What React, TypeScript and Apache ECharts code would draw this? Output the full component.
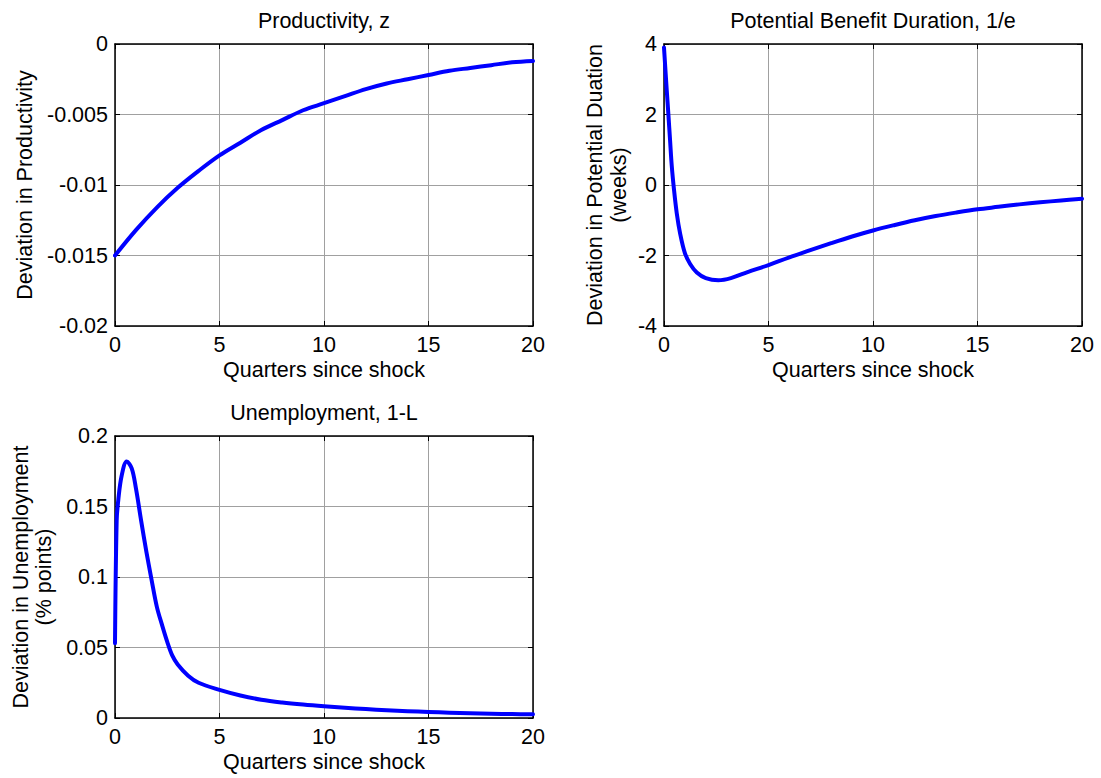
import React, { useEffect, useRef } from "react";
import * as echarts from "echarts";

// ---- Data ----
const xTicks = [0, 5, 10, 15, 20];

const prodX = [0, 1, 2, 3, 4, 5, 6, 7, 8, 9, 10, 11, 12, 13, 14, 15, 16, 17, 18, 19, 20];
const prodY = [-0.015, -0.0132, -0.0116, -0.0102, -0.009, -0.0079, -0.007, -0.0061, -0.0054, -0.0047, -0.0042,
  -0.0037, -0.0032, -0.0028, -0.0025, -0.0022, -0.0019, -0.0017, -0.0015, -0.0013, -0.0012];

const durX = [0, 0.13, 0.21, 0.29, 0.37, 0.48, 0.61, 0.77, 1.0, 1.25, 1.57, 2.0, 2.6, 3.2, 4.0, 5, 6, 7, 8, 9, 10,
  11, 12, 13, 14, 15, 16, 17, 18, 19, 20];
const durY = [3.9, 2.7, 2.0, 1.27, 0.55, -0.14, -0.8, -1.37, -1.93, -2.24, -2.48, -2.64, -2.7, -2.64, -2.47, -2.27,
  -2.05, -1.85, -1.65, -1.46, -1.29, -1.14, -1.0, -0.88, -0.78, -0.69, -0.62, -0.55, -0.49, -0.44, -0.39];

const unX = [0, 0.08, 0.16, 0.32, 0.56, 0.8, 1.0, 1.25, 1.5, 1.75, 2.0, 2.25, 2.5, 2.75, 3.0, 3.5, 4.0, 5, 6, 7, 8,
  9, 10, 11, 12, 13, 14, 15, 16, 17, 18, 19, 20];
const unY = [0.053, 0.14, 0.155, 0.172, 0.182, 0.177, 0.163, 0.14, 0.118, 0.098, 0.079, 0.066, 0.054, 0.044, 0.038,
  0.03, 0.025, 0.02, 0.016, 0.013, 0.011, 0.0095, 0.0083, 0.0073, 0.0063, 0.0055, 0.0048, 0.0043, 0.0038, 0.0033,
  0.003, 0.0028, 0.0026];

const titles = ["Productivity, z", "Potential Benefit Duration, 1/e", "Unemployment, 1-L"];
const xLabel = "Quarters since shock";
const yLabels = [
  ["Deviation in Productivity"],
  ["Deviation in Potential Duation", "(weeks)"],
  ["Deviation in Unemployment", "(% points)"],
];
const yRanges = [
  { min: -0.02, max: 0, interval: 0.005 },
  { min: -4, max: 4, interval: 2 },
  { min: 0, max: 0.2, interval: 0.05 },
];

const FONT = "Arial, 'Liberation Sans', Helvetica, sans-serif";
const FS = 21.5;

const grids = [
  { left: 115, top: 44, width: 418, height: 282 },
  { left: 664, top: 44, width: 418, height: 282 },
  { left: 115, top: 436, width: 418, height: 282 },
];
const yLabelOffsets = [[-90], [-69, -45], [-94, -71]];

export default function App() {
  const ref = useRef<HTMLDivElement>(null);
  useEffect(() => {
    if (!ref.current) return;
    const chart = echarts.init(ref.current, null, { renderer: "svg" });

    const axisLine = { show: true, onZero: false, lineStyle: { color: "#000", width: 1.5 } };
    const axisTick = { show: true, inside: true, length: 5, lineStyle: { color: "#000", width: 1 } };
    const splitLine = { show: true, lineStyle: { color: "#a0a0a0", width: 1 } };
    const labelStyle = { color: "#000", fontSize: FS, fontFamily: FONT };

    const xAxis: any[] = [];
    const yAxis: any[] = [];
    grids.forEach((g, i) => {
      ["bottom", "top"].forEach((pos) => {
        const main = pos === "bottom";
        xAxis.push({
          type: "value", gridIndex: i, position: pos, min: xTicks[0], max: xTicks[xTicks.length - 1], interval: 5,
          axisLine, axisTick,
          axisLabel: { show: main, margin: 8, ...labelStyle, formatter: (v: number) => String(v) },
          splitLine: { ...splitLine, show: main },
          name: main ? xLabel : "", nameLocation: "middle", nameGap: 33,
          nameTextStyle: { ...labelStyle },
        });
      });
      ["left", "right"].forEach((pos) => {
        const main = pos === "left";
        yAxis.push({
          type: "value", gridIndex: i, position: pos, ...yRanges[i],
          axisLine, axisTick,
          axisLabel: { show: main, margin: 7, ...labelStyle },
          splitLine: { ...splitLine, show: main },
        });
      });
    });

    const mk = (xs: number[], ys: number[]) => xs.map((x, k) => [x, ys[k]]);
    const datas = [mk(prodX, prodY), mk(durX, durY), mk(unX, unY)];
    const series = datas.map((d, i) => ({
      type: "line", xAxisIndex: 2 * i, yAxisIndex: 2 * i, data: d,
      showSymbol: false, smooth: 0.35,
      lineStyle: { color: "#0000ff", width: 4, join: "round", cap: "round" },
      z: 5,
    }));

    const graphic: any[] = [];
    grids.forEach((g, i) => {
      const cx = g.left + g.width / 2;
      const cy = g.top + g.height / 2;
      graphic.push({
        type: "text", x: cx, y: g.top - 23,
        style: { text: titles[i], align: "center", verticalAlign: "middle", fill: "#000", font: `${FS}px ${FONT}` },
      });
      yLabels[i].forEach((t, k) => {
        graphic.push({
          type: "text", x: g.left + yLabelOffsets[i][k], y: cy, rotation: Math.PI / 2,
          style: { text: t, align: "center", verticalAlign: "middle", fill: "#000", font: `${FS}px ${FONT}` },
        });
      });
    });

    chart.setOption({
      animation: false,
      backgroundColor: "#fff",
      grid: grids.map((g) => ({ ...g, containLabel: false })),
      xAxis,
      yAxis,
      series,
      graphic,
    });
    return () => chart.dispose();
  }, []);
  return <div ref={ref} style={{ position: "fixed", left: 0, top: 0, width: 1101, height: 778 }} />;
}
